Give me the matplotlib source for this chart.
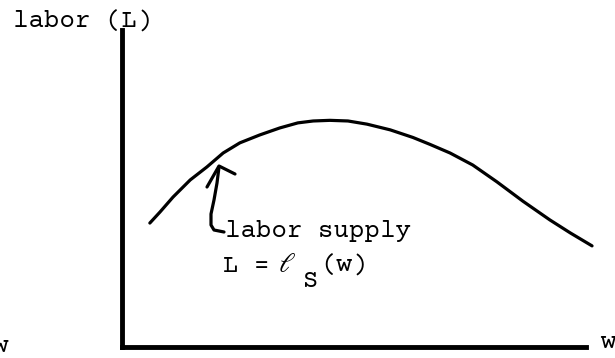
import matplotlib.pyplot as plt

# Labor supply curve (wage w, labor L), arbitrary units
wage = [0.60, 0.82, 1.10, 1.47, 1.83, 2.18, 2.54, 2.97, 3.40, 3.79, 4.12,
        4.48, 4.87, 5.28, 5.78, 6.27, 6.64, 7.07, 7.56, 8.08, 8.64, 9.22,
        9.66, 10.13]
labor = [3.91, 4.26, 4.73, 5.27, 5.68, 6.12, 6.44, 6.69, 6.91, 7.07, 7.13,
         7.15, 7.13, 7.03, 6.85, 6.61, 6.39, 6.12, 5.74, 5.21, 4.60, 4.01,
         3.60, 3.19]

y_label = "labor (L)"
x_label = "w"
curve_label = "labor supply"

W, H = 615, 358
fig = plt.figure(figsize=(W / 100, H / 100), dpi=100)

# axes origin at pixel (122, 347), x axis ends at 586, y axis top at 30
ax = fig.add_axes([122 / W, (H - 347) / H, (586 - 122) / W, (347 - 30) / H])
ax.set_xlim(0, 10)
ax.set_ylim(0, 10)
for side in ["top", "right"]:
    ax.spines[side].set_visible(False)
for side in ["left", "bottom"]:
    ax.spines[side].set_linewidth(3.5)
    ax.spines[side].set_capstyle("projecting")
ax.set_xticks([])
ax.set_yticks([])
ax.patch.set_visible(False)

font = ["Courier Prime", "DejaVu Sans Mono"]
fs = 18.5
ink = "black"

ax.plot(wage, labor, color=ink, lw=2.3, solid_capstyle="round",
        solid_joinstyle="round", clip_on=False)


def px(x, y):
    """pixel position of the scan -> data units"""
    return (x - 122) / 46.4, (347 - y) / 31.7


def label(x, y, s, ha="left", family=font, size=fs):
    ax.text(*px(x, y), s, family=family, fontsize=size, color=ink, ha=ha,
            va="baseline", clip_on=False)


# axis labels (the left "w" is cut by the page edge, as in the scan)
label(13, 28, y_label)
label(600, 348, x_label)
label(8, 352, x_label, ha="right")

# curve label
label(225, 237, curve_label)
label(223, 272, "L =")
label(279, 272, "\u2113", family=["STIXGeneral", "DejaVu Sans"], size=20)
label(303, 287, "S")
label(321, 272, "(w)")

# hooked arrow pointing at the curve
shaft = [px(219, 167), px(217, 183), px(214, 200), px(211, 214),
         px(211, 225), px(214, 230), px(224, 232)]
head = [px(207, 187), px(219, 166), px(235, 174)]
for path in (shaft, head):
    ax.plot([p[0] for p in path], [p[1] for p in path], color=ink, lw=2.3,
            solid_capstyle="round", solid_joinstyle="round", clip_on=False)

fig.savefig("out.png", dpi=100)
